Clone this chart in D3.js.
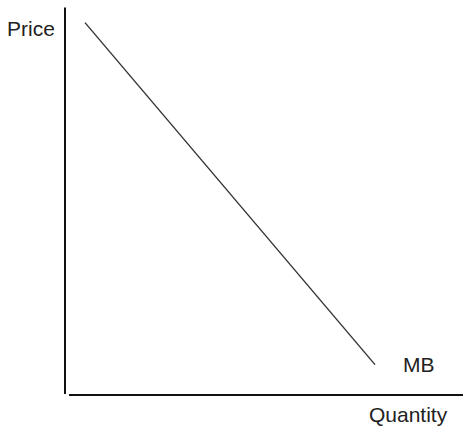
<!DOCTYPE html>
<html>
<head>
<meta charset="utf-8">
<script src="https://cdn.jsdelivr.net/npm/d3@7"></script>
<style>
  html, body { margin: 0; padding: 0; background: #fff; }
  svg { display: block; }
  text { font-family: "Liberation Sans", Arial, Helvetica, sans-serif; fill: #222; }
</style>
</head>
<body>
<svg id="chart" width="465" height="429"></svg>
<script>
// Data
const mbQuantity = [5, 77.5];
const mbPrice = [98, 8];
const curveLabel = "MB";
const xAxisLabel = "Quantity";
const yAxisLabel = "Price";
const xAxisExtent = [1, 99.5];
const yAxisExtent = [0, 102];

const svg = d3.select("#chart");
const x = d3.scaleLinear().domain([0, 100]).range([65, 465]);
const y = d3.scaleLinear().domain([0, 100]).range([395, 15]);

// y axis line
svg.append("line")
  .attr("x1", x(0)).attr("x2", x(0))
  .attr("y1", y(yAxisExtent[0]) - 1).attr("y2", y(yAxisExtent[1]))
  .attr("stroke", "#111").attr("stroke-width", 2);

// x axis line
svg.append("line")
  .attr("x1", x(xAxisExtent[0])).attr("x2", x(xAxisExtent[1]))
  .attr("y1", y(0)).attr("y2", y(0))
  .attr("stroke", "#111").attr("stroke-width", 2);

// MB curve
const pts = mbQuantity.map((q, i) => [q, mbPrice[i]]);
svg.append("path")
  .datum(pts)
  .attr("fill", "none")
  .attr("stroke", "#333")
  .attr("stroke-width", 1.4)
  .attr("d", d3.line().x(d => x(d[0])).y(d => y(d[1])));

// labels
svg.append("text").attr("x", 7).attr("y", 36)
  .attr("font-size", 21).text(yAxisLabel);
svg.append("text").attr("x", 403).attr("y", 372)
  .attr("font-size", 21).text(curveLabel);
svg.append("text").attr("x", 369).attr("y", 422)
  .attr("font-size", 21).text(xAxisLabel);
</script>
</body>
</html>
